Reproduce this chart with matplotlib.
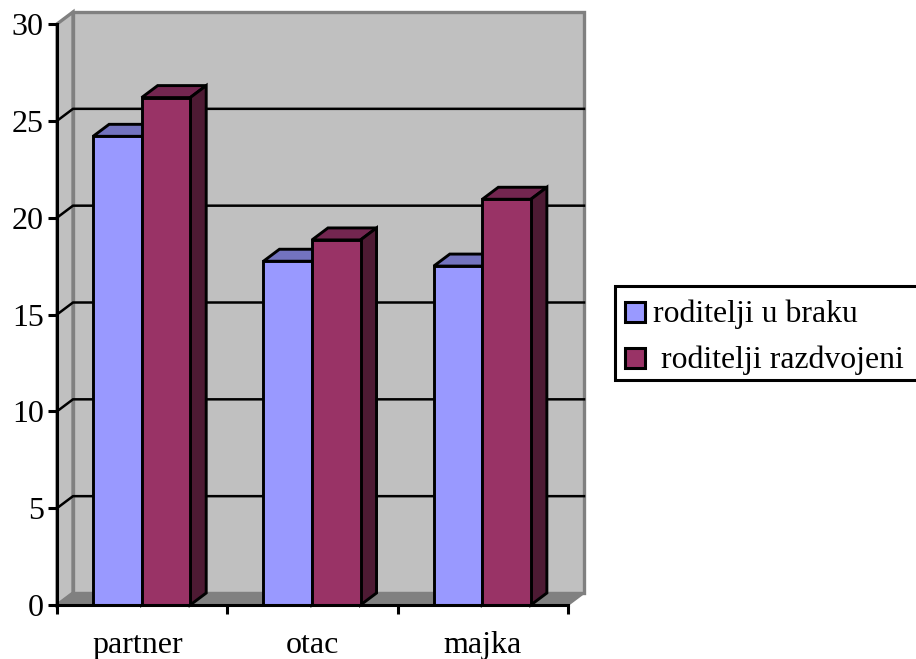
import matplotlib
matplotlib.use("Agg")
import matplotlib.pyplot as plt
from matplotlib.patches import Polygon, Rectangle
from matplotlib.transforms import ScaledTranslation

plt.rcParams['font.family'] = ['Liberation Serif', 'DejaVu Serif']

# data
categories = ["partner", "otac", "majka"]
married = [24.2, 17.75, 17.5]
separated = [26.2, 18.85, 20.95]
series_names = ["roditelji u braku", " roditelji razdvojeni"]
y_ticks = [0, 5, 10, 15, 20, 25, 30]

# boje
BLUE = "#9999FF"
BLUE_TOP = "#7373BF"
RED = "#993366"
RED_TOP = "#732650"
RED_SIDE = "#4D1A33"
BLUE_SIDE = "#4D4D80"
WALL = "#C0C0C0"
WALL_EDGE = "#808080"
FLOOR = "#808080"

W, H = 916, 659
fig = plt.figure(figsize=(W / 100, H / 100), dpi=100, facecolor="white")
ax = fig.add_axes([57 / W, (H - 605) / H, 511 / W, 581 / H], facecolor="none")
ax.set_xlim(0, len(categories))
ax.set_ylim(0, y_ticks[-1])

# 3D pomak u jedinicama podataka
dx = 16 / (511 / 3)
dy = 12 / (581 / 30)
bar_w = 0.285
n = len(categories)
top = y_ticks[-1]


def poly(pts, fc, ec, lw, z):
    ax.add_patch(Polygon(pts, closed=True, facecolor=fc, edgecolor=ec, linewidth=lw,
                         zorder=z, clip_on=False, joinstyle="miter"))


# zidovi i pod
poly([(dx, dy), (n + dx, dy), (n + dx, top + dy), (dx, top + dy)], WALL, WALL_EDGE, 2.4, 1)
poly([(0, 0), (dx, dy), (dx, top + dy), (0, top)], WALL, WALL_EDGE, 2.4, 1)
poly([(0, 0), (n, 0), (n + dx, dy), (dx, dy)], FLOOR, WALL_EDGE, 1.5, 1.5)

# mreza
for t in y_ticks[1:-1]:
    ax.plot([0, dx, n + dx], [t, t + dy, t + dy], color="black", lw=1.8, zorder=2,
            clip_on=False, solid_joinstyle="miter")


def bar3d(x, v, front, top_c, side_c, z):
    poly([(x, v), (x + dx, v + dy), (x + bar_w + dx, v + dy), (x + bar_w, v)], top_c, "black", 2.1, z)
    poly([(x + bar_w, 0), (x + bar_w + dx, dy), (x + bar_w + dx, v + dy), (x + bar_w, v)], side_c, "black", 2.1, z)
    ax.bar(x, v, width=bar_w, align="edge", color=front, edgecolor="black", linewidth=2.1,
           zorder=z + 0.1, clip_on=False)


for i in range(n):
    center = i + 0.497
    bar3d(center - bar_w, married[i], BLUE, BLUE_TOP, BLUE_SIDE, 3 + i)
    bar3d(center, separated[i], RED, RED_TOP, RED_SIDE, 3.5 + i)

# osi
for s in ["top", "right"]:
    ax.spines[s].set_visible(False)
for s in ["left", "bottom"]:
    ax.spines[s].set_linewidth(2.2)
    ax.spines[s].set_zorder(10)
ax.set_yticks(y_ticks)
ax.tick_params(axis="y", length=6.5, width=2.2, labelsize=23, pad=3)
ax.set_xticks(range(n + 1))
ax.set_xticklabels([])
ax.tick_params(axis="x", which="major", length=6.5, width=2.2)
ax.set_xticks([i + 0.5 for i in range(n)], minor=True)
ax.set_xticklabels(categories, minor=True, fontsize=23)
ax.tick_params(axis="x", which="minor", length=0, pad=19)
# "partner" je u originalu malo lijevo od sredine
lab = ax.get_xticklabels(minor=True)[0]
lab.set_transform(lab.get_transform() + ScaledTranslation(-4.5 / 100, 0, fig.dpi_scale_trans))

# legenda (rucno, zbog razmaka kao u originalu)
fig.add_artist(Rectangle((615 / W, (H - 380) / H), 310 / W, 94 / H, transform=fig.transFigure,
                         facecolor="white", edgecolor="black", linewidth=2.2))
for name, color, swatch_top, baseline in zip(series_names, [BLUE, RED], [301.5, 347.5], [322, 368]):
    fig.add_artist(Rectangle((625 / W, (H - swatch_top - 20) / H), 20 / W, 20 / H,
                             transform=fig.transFigure, facecolor=color, edgecolor="black", linewidth=2.2))
    fig.text(653 / W, (H - baseline) / H, name, fontsize=22.9, va="baseline", ha="left")

fig.savefig("out.png", dpi=100)
